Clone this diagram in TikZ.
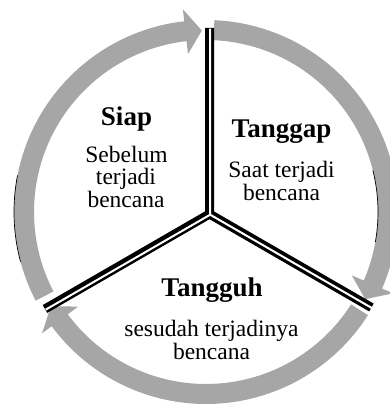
\documentclass[tikz,border=0pt]{standalone}
\usepackage{fontspec}
\setmainfont{Liberation Serif}
\definecolor{arcgray}{RGB}{166,166,166}
\newcommand\cyclearrow[3]{% tail angle, tip angle, head-base angle
  \fill[arcgray] (#1:192pt) arc[start angle=#1, end angle=#3, radius=192pt]
    -- (#3:204pt) -- (#2:181.5pt) -- (#3:159pt) -- (#3:172pt)
    arc[start angle=#3, end angle=#1, radius=172pt] -- cycle;}
\tikzset{
  head/.style={font=\fontsize{27}{27}\selectfont\bfseries, inner sep=0pt, anchor=base,
    text height=0.66em, text depth=0.2em},
  body/.style={font=\fontsize{23.5}{21.5}\selectfont, inner sep=0pt, anchor=base,
    text height=0.62em, text depth=0.2em},
  divblack/.style={line width=9pt, black, line join=miter},
  divwhite/.style={line width=2pt, white, line join=miter},
}
\begin{document}
\begin{tikzpicture}[x=1pt,y=1pt]
\useasboundingbox (0,0) rectangle (390,408);
% cycle arrows
\begin{scope}[shift={(206,196)}]
  \cyclearrow{207.5}{91.3}{96.5}
  \cyclearrow{87.5}{-28.7}{-23.5}
  \cyclearrow{-32.5}{-148.7}{-143.5}
  \draw[line width=0.7pt] (169:192pt) arc[start angle=169, end angle=195, radius=192pt];
  \draw[line width=0.7pt] (14:172pt) arc[start angle=14, end angle=-10, radius=172pt];
\end{scope}
% dividers
\begin{scope}[shift={(209.5,194)}]
  \coordinate (J) at (0,0);
  \coordinate (dT) at (90:186pt);
  \coordinate (dR) at (-30:187pt);
  \coordinate (dL) at (210:190pt);
\end{scope}
\begin{scope}[shift={(210.2,193.3)}]
  \coordinate (wJ) at (0,0);
  \coordinate (wT) at (90:186pt);
  \coordinate (wR) at (-30:188pt);
  \coordinate (wL) at (210:190pt);
\end{scope}
\draw[divblack] (dT) -- (J) -- (dL);
\draw[divblack] (J) -- (dR);
\draw[divwhite] (wT) -- (wJ) -- (wL);
\draw[divwhite] (wJ) -- (wR);
% texts
\node[head] (siap) at (126.5,282.5) {Siap};
\node[body] (siap1) at (126.5,245) {Sebelum};
\node[body] (siap2) at (126,223) {terjadi};
\node[body] (siap3) at (126,200) {bencana};
\node[head] (tanggap) at (281.5,270) {Tanggap};
\node[body] (tanggap1) at (281.5,230.5) {Saat terjadi};
\node[body] (tanggap2) at (281.5,207.5) {bencana};
\node[head] (tangguh) at (212,111) {Tangguh};
\node[body] (tangguh1) at (211.5,71) {sesudah terjadinya};
\node[body] (tangguh2) at (211.5,48.5) {bencana};
\end{tikzpicture}
\end{document}
